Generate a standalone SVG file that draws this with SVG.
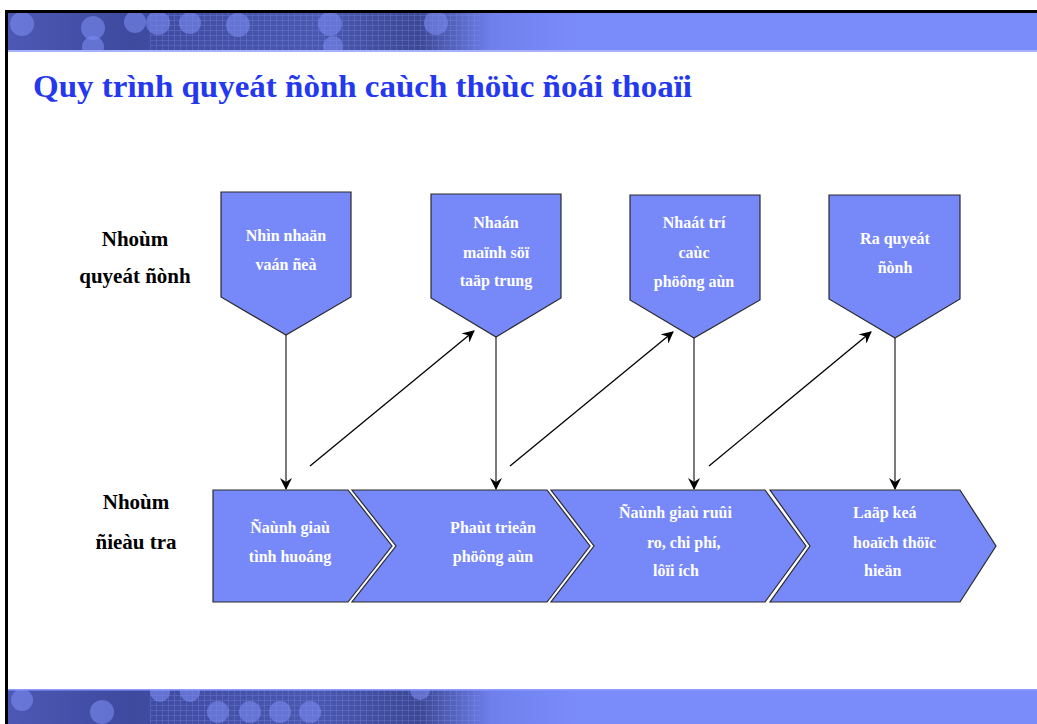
<svg xmlns="http://www.w3.org/2000/svg" width="1037" height="724" viewBox="0 0 1037 724">
<defs>
<linearGradient id="band" x1="0" y1="0" x2="1" y2="0">
<stop offset="0" stop-color="#4c58b4"/>
<stop offset="0.12" stop-color="#3e4a9e"/>
<stop offset="0.3" stop-color="#4a58b0"/>
<stop offset="0.4" stop-color="#3c4894"/>
<stop offset="0.47" stop-color="#6f80ec"/>
<stop offset="0.55" stop-color="#7a8cfa"/>
<stop offset="1" stop-color="#7a8cfa"/>
</linearGradient>
<pattern id="grid" width="6" height="5" patternUnits="userSpaceOnUse">
<path d="M0,0.5H6M0.5,0V5" stroke="#8e9bf0" stroke-width="0.6" opacity="0.4"/>
</pattern>
<clipPath id="topclip"><rect x="8" y="13" width="1029" height="38"/></clipPath>
<clipPath id="botclip"><rect x="8" y="690" width="1029" height="34"/></clipPath>
<marker id="ah" viewBox="0 0 12 12" refX="11" refY="6" markerWidth="12" markerHeight="12" markerUnits="userSpaceOnUse" orient="auto">
<path d="M0,0 L12,6 L0,12 L4,6 Z" fill="#000"/>
</marker>
<style>
.node{fill:#7788f9;stroke:#2a2a2a;stroke-width:1.2}
.nt{font-family:"Liberation Serif",serif;font-size:16px;font-weight:bold;fill:#ffffff}
.lbl{font-family:"Liberation Serif",serif;font-size:21px;font-weight:bold;fill:#000000;text-anchor:middle}
.v{stroke:#333;stroke-width:1.3;fill:none;marker-end:url(#ah)}
.d{stroke:#000;stroke-width:1.3;fill:none;marker-end:url(#ah)}
.blob{fill:#7b8af0;opacity:0.6}
</style>
</defs>
<rect x="0" y="0" width="1037" height="724" fill="#ffffff"/>
<g id="header">
<rect x="8" y="13" width="1029" height="38" fill="url(#band)"/>
<rect x="150" y="13" width="330" height="38" fill="url(#grid)"/>
<g clip-path="url(#topclip)">
<circle class="blob" cx="22" cy="24" r="12"/>
<circle class="blob" cx="93" cy="28" r="12"/>
<circle class="blob" cx="93" cy="47" r="11"/>
<circle class="blob" cx="135" cy="22" r="11"/>
<circle class="blob" cx="158" cy="23" r="12"/>
<circle class="blob" cx="190" cy="23" r="11"/>
<circle class="blob" cx="238" cy="25" r="12"/>
<circle class="blob" cx="330" cy="24" r="12"/>
<circle class="blob" cx="333" cy="46" r="10"/>
<circle class="blob" cx="436" cy="23" r="12"/>
</g>
<rect x="8" y="50" width="1029" height="2" fill="#a7b2ff"/>
<rect x="5" y="10" width="1032" height="3" fill="#000"/>
<rect x="5" y="10" width="3" height="714" fill="#000"/>
</g>
<g id="footer">
<rect x="8" y="690" width="1029" height="34" fill="url(#band)"/>
<rect x="150" y="690" width="330" height="34" fill="url(#grid)"/>
<g clip-path="url(#botclip)">
<circle class="blob" cx="22" cy="700" r="11"/>
<circle class="blob" cx="102" cy="712" r="12"/>
<circle class="blob" cx="160" cy="692" r="10"/>
<circle class="blob" cx="190" cy="692" r="10"/>
<circle class="blob" cx="218" cy="712" r="11"/>
<circle class="blob" cx="250" cy="712" r="11"/>
<circle class="blob" cx="280" cy="712" r="11"/>
<circle class="blob" cx="310" cy="712" r="11"/>
<circle class="blob" cx="420" cy="690" r="10"/>
</g>
<rect x="8" y="689" width="1029" height="1.5" fill="#8e9cff"/>
</g>
<text id="title" x="33" y="97" font-family="'Liberation Serif',serif" font-size="32" font-weight="bold" fill="#2438f0" textLength="659" lengthAdjust="spacingAndGlyphs">Quy trình quyeát ñònh caùch thöùc ñoái thoaïi</text>
<g id="label-top">
<text class="lbl" x="135" y="246">Nhoùm</text>
<text class="lbl" x="135" y="283">quyeát ñònh</text>
</g>
<g id="label-bottom">
<text class="lbl" x="136" y="509">Nhoùm</text>
<text class="lbl" x="136" y="549">ñieàu tra</text>
</g>
<g id="connectors">
<line class="v" x1="286" y1="335" x2="286" y2="489"/>
<line class="v" x1="496" y1="337" x2="496" y2="489"/>
<line class="v" x1="694" y1="338" x2="694" y2="489"/>
<line class="v" x1="895" y1="338" x2="895" y2="489"/>
<line class="d" x1="310" y1="466" x2="474" y2="331"/>
<line class="d" x1="510" y1="466" x2="673" y2="332"/>
<line class="d" x1="709" y1="466" x2="871" y2="332"/>
</g>
<g id="n1">
<path class="node" d="M221,192 H351 V297 L286,335 L221,297 Z"/>
<text class="nt" x="286" y="241" text-anchor="middle">Nhìn nhaän</text>
<text class="nt" x="286" y="270" text-anchor="middle">vaán ñeà</text>
</g>
<g id="n2">
<path class="node" d="M431,194 H561 V298 L496,337 L431,298 Z"/>
<text class="nt" x="496" y="228" text-anchor="middle">Nhaán</text>
<text class="nt" x="496" y="258" text-anchor="middle">maïnh söï</text>
<text class="nt" x="496" y="286" text-anchor="middle">taäp trung</text>
</g>
<g id="n3">
<path class="node" d="M630,195 H760 V300 L694,338 L630,300 Z"/>
<text class="nt" x="694" y="228" text-anchor="middle">Nhaát trí</text>
<text class="nt" x="694" y="258" text-anchor="middle">caùc</text>
<text class="nt" x="694" y="287" text-anchor="middle">phöông aùn</text>
</g>
<g id="n4">
<path class="node" d="M829,195 H960 V299 L895,338 L829,299 Z"/>
<text class="nt" x="895" y="244" text-anchor="middle">Ra quyeát</text>
<text class="nt" x="895" y="273" text-anchor="middle">ñònh</text>
</g>
<g id="c1">
<path class="node" d="M213,490 L348,490 L392,546 L348,602 L213,602 Z"/>
<text class="nt" x="290" y="533" text-anchor="middle">Ñaùnh giaù</text>
<text class="nt" x="290" y="562" text-anchor="middle">tình huoáng</text>
</g>
<g id="c2">
<path class="node" d="M352,490 L547,490 L590,546 L547,602 L352,602 L396,546 Z"/>
<text class="nt" x="493" y="533" text-anchor="middle">Phaùt trieån</text>
<text class="nt" x="493" y="562" text-anchor="middle">phöông aùn</text>
</g>
<g id="c3">
<path class="node" d="M551,490 L765,490 L806,546 L765,602 L551,602 L594,546 Z"/>
<text class="nt" x="619" y="518">Ñaùnh giaù ruûi</text>
<text class="nt" x="647" y="548">ro, chi phí,</text>
<text class="nt" x="653" y="576">lôïi ích</text>
</g>
<g id="c4">
<path class="node" d="M770,490 L960,490 L996,546 L960,602 L770,602 L810,546 Z"/>
<text class="nt" x="853" y="518">Laäp keá</text>
<text class="nt" x="853" y="548">hoaïch thöïc</text>
<text class="nt" x="864" y="576">hieän</text>
</g>
</svg>
